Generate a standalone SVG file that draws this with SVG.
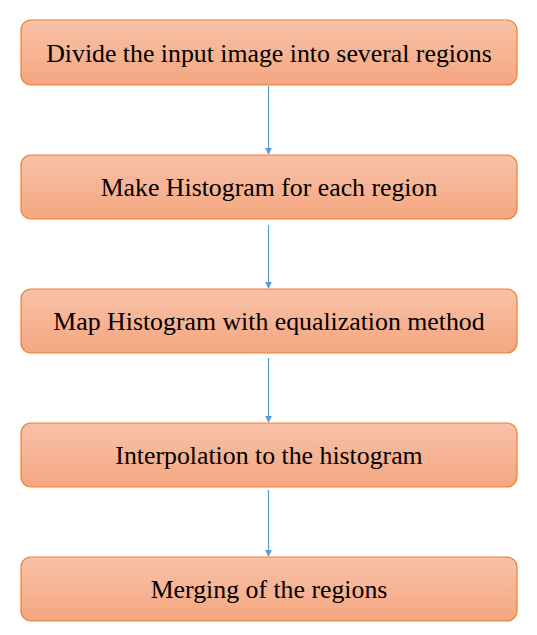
<svg xmlns="http://www.w3.org/2000/svg" width="537" height="635" viewBox="0 0 537 635">
<style>
.box{fill:url(#g);stroke:#ED7D31;stroke-width:1.2}
.con{stroke:#5B9BD5;stroke-width:1.2;fill:none;marker-end:url(#a)}
</style>
<defs>
<linearGradient id="g" x1="0" y1="0" x2="0" y2="1">
<stop offset="0" stop-color="#F8C2A9"/>
<stop offset="1" stop-color="#F5A67F"/>
</linearGradient>
<marker id="a" viewBox="0 0 10 10" refX="9" refY="5" markerWidth="7" markerHeight="7" markerUnits="userSpaceOnUse" orient="auto">
<path d="M0,0 L10,5 L0,10 z" fill="#5B9BD5"/>
</marker>
</defs>
<g id="connectors">
<line class="con" x1="268.5" y1="86" x2="268.5" y2="154"/>
<line class="con" x1="268.5" y1="225" x2="268.5" y2="288"/>
<line class="con" x1="268.5" y1="358" x2="268.5" y2="422"/>
<line class="con" x1="268.5" y1="490" x2="268.5" y2="556"/>
</g>
<g font-family="Liberation Serif, serif" font-size="25.8" fill="#000" text-anchor="middle">
<g id="n1"><rect class="box" x="21" y="20" width="496" height="65" rx="10"/><text x="269" y="62">Divide the input image into several regions</text></g>
<g id="n2"><rect class="box" x="21" y="155" width="496" height="64" rx="10"/><text x="269" y="196">Make Histogram for each region</text></g>
<g id="n3"><rect class="box" x="21" y="289" width="496" height="64" rx="10"/><text x="269" y="330">Map Histogram with equalization method</text></g>
<g id="n4"><rect class="box" x="21" y="423" width="496" height="64" rx="10"/><text x="269" y="464">Interpolation to the histogram</text></g>
<g id="n5"><rect class="box" x="21" y="557" width="496" height="64" rx="10"/><text x="269" y="598">Merging of the regions</text></g>
</g>
</svg>
